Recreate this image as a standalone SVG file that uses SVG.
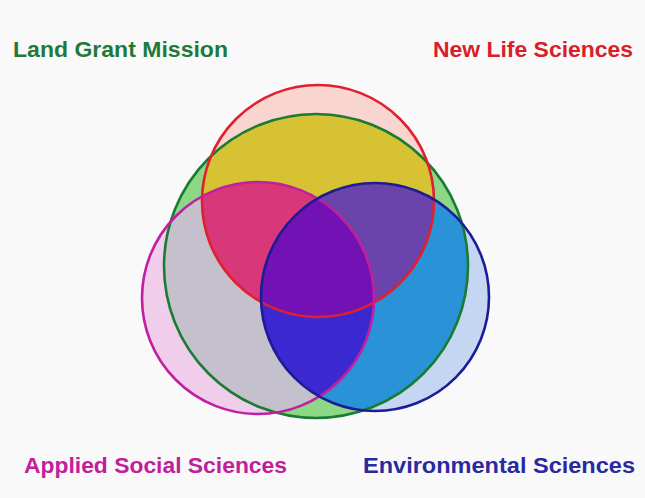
<svg xmlns="http://www.w3.org/2000/svg" width="645" height="498" viewBox="0 0 645 498">
<style>
.lbl{font-family:"Liberation Sans",Arial,sans-serif;font-weight:bold;font-size:22.5px}
.ring{fill:none;stroke-width:2.6}
</style>
<defs>
<clipPath id="cG"><circle cx="316" cy="266" r="152"/></clipPath>
<clipPath id="cR"><circle cx="318" cy="201" r="116"/></clipPath>
<clipPath id="cM"><circle cx="258" cy="298" r="116"/></clipPath>
<clipPath id="cB"><circle cx="375" cy="297" r="114"/></clipPath>
</defs>
<rect width="645" height="498" fill="#f9f9f9"/>
<g id="land-grant-mission">
<circle cx="316" cy="266" r="152" fill="#8cd886"/>
</g>
<g id="new-life-sciences">
<circle cx="318" cy="201" r="116" fill="#f8d6cf"/>
</g>
<g id="applied-social-sciences">
<circle cx="258" cy="298" r="116" fill="#f0cdea"/>
</g>
<g id="environmental-sciences">
<circle cx="375" cy="297" r="114" fill="#c4d6f2"/>
</g>
<g id="overlaps">
<g clip-path="url(#cG)">
<circle cx="318" cy="201" r="116" fill="#d6c232"/>
<circle cx="258" cy="298" r="116" fill="#c4c0cc"/>
<circle cx="375" cy="297" r="114" fill="#2a92d6"/>
<g clip-path="url(#cR)"><circle cx="258" cy="298" r="116" fill="#d8387a"/></g>
<g clip-path="url(#cR)"><circle cx="375" cy="297" r="114" fill="#6a44aa"/></g>
<g clip-path="url(#cM)"><circle cx="375" cy="297" r="114" fill="#3c28d0"/></g>
<g clip-path="url(#cR)"><g clip-path="url(#cM)"><circle cx="375" cy="297" r="114" fill="#7212b4"/></g></g>
</g>
</g>
<g id="outlines">
<circle class="ring" cx="316" cy="266" r="152" stroke="#1a7c34"/>
<circle class="ring" cx="318" cy="201" r="116" stroke="#e0202e"/>
<circle class="ring" cx="258" cy="298" r="116" stroke="#c020a0"/>
<circle class="ring" cx="375" cy="297" r="114" stroke="#1c1c96"/>
</g>
<g id="labels">
<text class="lbl" x="13" y="57" fill="#1f7a3a" textLength="215" lengthAdjust="spacingAndGlyphs">Land Grant Mission</text>
<text class="lbl" x="433" y="57" fill="#d8202a" textLength="200" lengthAdjust="spacingAndGlyphs">New Life Sciences</text>
<text class="lbl" x="24" y="473" fill="#c0209c" textLength="263" lengthAdjust="spacingAndGlyphs">Applied Social Sciences</text>
<text class="lbl" x="363" y="473" fill="#2a2aa0" textLength="272" lengthAdjust="spacingAndGlyphs">Environmental Sciences</text>
</g>
<g id="connectors"/>
</svg>
